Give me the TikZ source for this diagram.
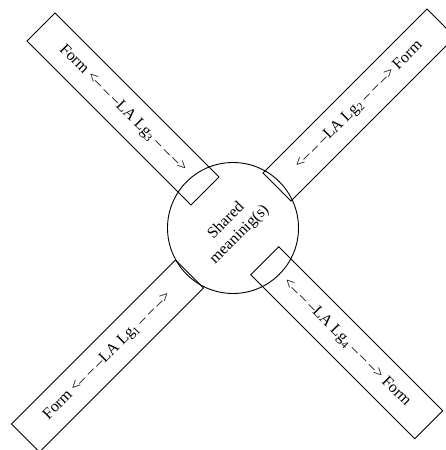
\documentclass[tikz,border=0pt]{standalone}
\usepackage{fontspec}
\setmainfont{Liberation Serif}
\usetikzlibrary{calc}
\newcommand{\lnL}{232pt}
\newcommand{\lnW}{39.5pt}
\tikzset{
  smcirc/.style ={circle,draw=black,line width=0.9pt,minimum size=131pt,inner sep=0pt,
                  align=center,font=\fontsize{16}{19}\selectfont},
  lnbox/.style  ={rectangle,draw=black,line width=0.9pt,minimum width=\lnL,
                  minimum height=\lnW,inner sep=0pt,font=\fontsize{16}{18}\selectfont},
}
\newcommand{\dsh}{-- -- --}
\newcommand{\lgL}[1]{<\dsh LA Lg\textsubscript{#1} \dsh>}
\begin{document}
\begin{tikzpicture}[x=1pt,y=1pt]
  \useasboundingbox (0,0) rectangle (446,450);
  \node[smcirc,rotate=45] (sm) at (233,222) {Shared\\meaninig(s)};
  \node[lnbox,rotate=-45] (lg3) at (123,341) {Form \lgL{3}};
  \node[lnbox,rotate=45]  (lg2) at (359,345) {\lgL{2} Form};
  \node[lnbox,rotate=45]  (lg1) at (107.5,94) {Form \lgL{1}};
  \node[lnbox,rotate=-45] (lg4) at (346.75,107.25) {\lgL{4} Form};
\end{tikzpicture}
\end{document}
